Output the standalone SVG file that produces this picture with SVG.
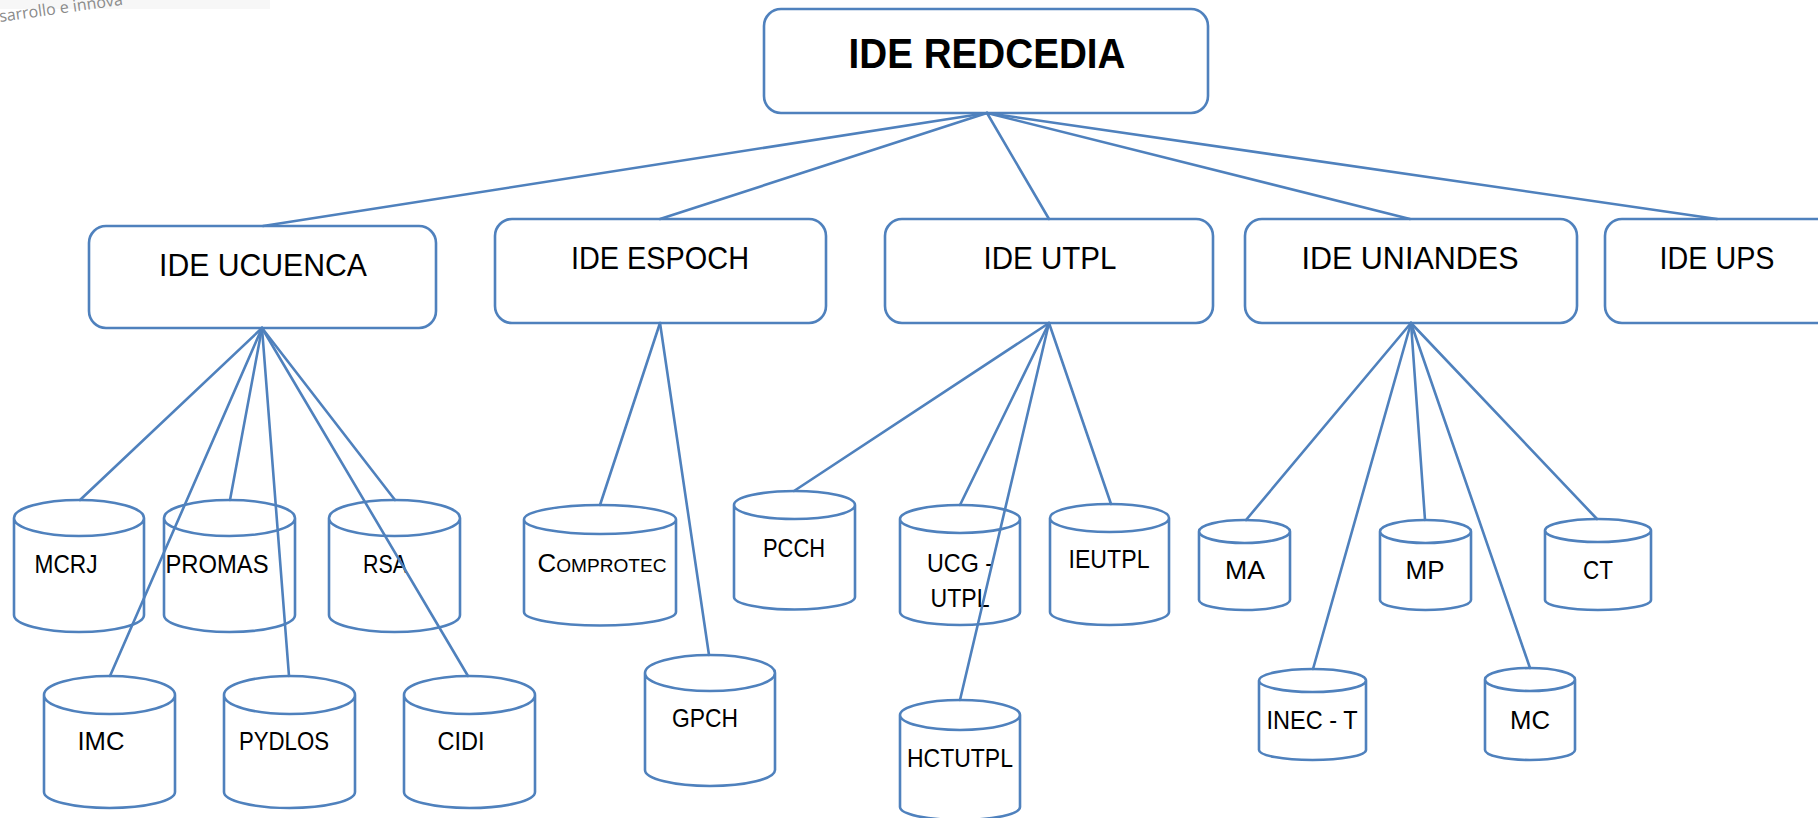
<svg xmlns="http://www.w3.org/2000/svg" width="1818" height="818" viewBox="0 0 1818 818">
<style>
.box{fill:#fff;stroke:#4f81bd;stroke-width:2.6}
.cyl{fill:#fff;stroke:#4f81bd;stroke-width:2.6;stroke-linejoin:round}
.conn line{stroke:#4f81bd;stroke-width:2.6;stroke-linecap:round}
text{font-family:"Liberation Sans",Arial,sans-serif;fill:#000;text-anchor:middle}
.t1{font-size:42px;font-weight:bold}
.t2{font-size:31px}
.t3{font-size:25px}
</style>
<rect width="1818" height="818" fill="#fff"/>
<g id="logo">
<rect x="0" y="0" width="270" height="9" fill="#f7f7f7"/>
<text x="0" y="22" transform="rotate(-8 0 22)" style="font-family:'Open Sans','Liberation Sans',sans-serif;font-size:16px;fill:#8a8a8a;text-anchor:start">sarrollo e innova</text>
</g>
<g id="redcedia"><rect class="box" x="764" y="9" width="444" height="104" rx="17"/><text class="t1" x="987" y="68" textLength="277" lengthAdjust="spacingAndGlyphs">IDE REDCEDIA</text></g>
<g id="ucuenca"><rect class="box" x="89" y="226" width="347" height="102" rx="17"/><text class="t2" x="263" y="276" textLength="208" lengthAdjust="spacingAndGlyphs">IDE UCUENCA</text></g>
<g id="espoch"><rect class="box" x="495" y="219" width="331" height="104" rx="17"/><text class="t2" x="660" y="269" textLength="178" lengthAdjust="spacingAndGlyphs">IDE ESPOCH</text></g>
<g id="utpl"><rect class="box" x="885" y="219" width="328" height="104" rx="17"/><text class="t2" x="1050" y="269" textLength="133" lengthAdjust="spacingAndGlyphs">IDE UTPL</text></g>
<g id="uniandes"><rect class="box" x="1245" y="219" width="332" height="104" rx="17"/><text class="t2" x="1410" y="269" textLength="217" lengthAdjust="spacingAndGlyphs">IDE UNIANDES</text></g>
<g id="ups"><rect class="box" x="1605" y="219" width="240" height="104" rx="17"/><text class="t2" x="1717" y="269" textLength="115" lengthAdjust="spacingAndGlyphs">IDE UPS</text></g>

<g id="mcrj"><path class="cyl" d="M14 518 L14 615 A65 17 0 0 0 144 615 L144 518 A65 18 0 0 0 14 518 A65 18 0 0 0 144 518"/><text class="t3" x="66" y="573" textLength="63" lengthAdjust="spacingAndGlyphs">MCRJ</text></g>
<g id="promas"><path class="cyl" d="M164 518 L164 615 A65.5 17 0 0 0 295 615 L295 518 A65.5 18 0 0 0 164 518 A65.5 18 0 0 0 295 518"/><text class="t3" x="217" y="573" textLength="103" lengthAdjust="spacingAndGlyphs">PROMAS</text></g>
<g id="rsa"><path class="cyl" d="M329 518 L329 615 A65.5 17 0 0 0 460 615 L460 518 A65.5 18 0 0 0 329 518 A65.5 18 0 0 0 460 518"/><text class="t3" x="385" y="573" textLength="44" lengthAdjust="spacingAndGlyphs">RSA</text></g>
<g id="imc"><path class="cyl" d="M44 695 L44 792 A65.5 16 0 0 0 175 792 L175 695 A65.5 19 0 0 0 44 695 A65.5 19 0 0 0 175 695"/><text class="t3" x="101" y="750" textLength="47" lengthAdjust="spacingAndGlyphs">IMC</text></g>
<g id="pydlos"><path class="cyl" d="M224 695 L224 792 A65.5 16 0 0 0 355 792 L355 695 A65.5 19 0 0 0 224 695 A65.5 19 0 0 0 355 695"/><text class="t3" x="284" y="750" textLength="90" lengthAdjust="spacingAndGlyphs">PYDLOS</text></g>
<g id="cidi"><path class="cyl" d="M404 695 L404 792 A65.5 16 0 0 0 535 792 L535 695 A65.5 19 0 0 0 404 695 A65.5 19 0 0 0 535 695"/><text class="t3" x="461" y="750" textLength="47" lengthAdjust="spacingAndGlyphs">CIDI</text></g>

<g id="comprotec"><path class="cyl" d="M524 519.5 L524 612 A76 13.5 0 0 0 676 612 L676 519.5 A76 14.5 0 0 0 524 519.5 A76 14.5 0 0 0 676 519.5"/><text class="t3" x="602" y="572" textLength="129" lengthAdjust="spacingAndGlyphs">C<tspan style="font-size:18.5px">OMPROTEC</tspan></text></g>
<g id="gpch"><path class="cyl" d="M645 673 L645 770 A65 16 0 0 0 775 770 L775 673 A65 18 0 0 0 645 673 A65 18 0 0 0 775 673"/><text class="t3" x="705" y="727" textLength="66" lengthAdjust="spacingAndGlyphs">GPCH</text></g>

<g id="pcch"><path class="cyl" d="M734 505 L734 597 A60.5 12.5 0 0 0 855 597 L855 505 A60.5 14 0 0 0 734 505 A60.5 14 0 0 0 855 505"/><text class="t3" x="794" y="557" textLength="62" lengthAdjust="spacingAndGlyphs">PCCH</text></g>
<g id="ucg"><path class="cyl" d="M900 519 L900 612 A60 13 0 0 0 1020 612 L1020 519 A60 14 0 0 0 900 519 A60 14 0 0 0 1020 519"/><text class="t3" x="960" y="572" textLength="66" lengthAdjust="spacingAndGlyphs">UCG -</text><text class="t3" x="960" y="607" textLength="59" lengthAdjust="spacingAndGlyphs">UTPL</text></g>
<g id="hctutpl"><path class="cyl" d="M900 715 L900 807 A60 13 0 0 0 1020 807 L1020 715 A60 15 0 0 0 900 715 A60 15 0 0 0 1020 715"/><text class="t3" x="960" y="767" textLength="106" lengthAdjust="spacingAndGlyphs">HCTUTPL</text></g>
<g id="ieutpl"><path class="cyl" d="M1050 518 L1050 612 A59.5 13 0 0 0 1169 612 L1169 518 A59.5 14 0 0 0 1050 518 A59.5 14 0 0 0 1169 518"/><text class="t3" x="1109" y="568" textLength="81" lengthAdjust="spacingAndGlyphs">IEUTPL</text></g>

<g id="ma"><path class="cyl" d="M1199 531.5 L1199 600 A45.5 10 0 0 0 1290 600 L1290 531.5 A45.5 11.5 0 0 0 1199 531.5 A45.5 11.5 0 0 0 1290 531.5"/><text class="t3" x="1245" y="579" textLength="40" lengthAdjust="spacingAndGlyphs">MA</text></g>
<g id="mp"><path class="cyl" d="M1380 531.5 L1380 600 A45.5 10 0 0 0 1471 600 L1471 531.5 A45.5 11.5 0 0 0 1380 531.5 A45.5 11.5 0 0 0 1471 531.5"/><text class="t3" x="1425" y="579" textLength="39" lengthAdjust="spacingAndGlyphs">MP</text></g>
<g id="ct"><path class="cyl" d="M1545 530.5 L1545 600 A53 10 0 0 0 1651 600 L1651 530.5 A53 11.5 0 0 0 1545 530.5 A53 11.5 0 0 0 1651 530.5"/><text class="t3" x="1598" y="579" textLength="30" lengthAdjust="spacingAndGlyphs">CT</text></g>
<g id="inec"><path class="cyl" d="M1259 680.5 L1259 750 A53.5 10 0 0 0 1366 750 L1366 680.5 A53.5 11.5 0 0 0 1259 680.5 A53.5 11.5 0 0 0 1366 680.5"/><text class="t3" x="1312" y="729" textLength="91" lengthAdjust="spacingAndGlyphs">INEC - T</text></g>
<g id="mc"><path class="cyl" d="M1485 679.5 L1485 750 A45 10 0 0 0 1575 750 L1575 679.5 A45 11.5 0 0 0 1485 679.5 A45 11.5 0 0 0 1575 679.5"/><text class="t3" x="1530" y="729" textLength="40" lengthAdjust="spacingAndGlyphs">MC</text></g>

<g id="connectors" class="conn">
<line x1="987" y1="113" x2="263" y2="226"/>
<line x1="987" y1="113" x2="660" y2="219"/>
<line x1="987" y1="113" x2="1049" y2="219"/>
<line x1="987" y1="113" x2="1410" y2="219"/>
<line x1="987" y1="113" x2="1717" y2="219"/>
<line x1="262" y1="328" x2="80" y2="500"/>
<line x1="262" y1="328" x2="230" y2="500"/>
<line x1="262" y1="328" x2="395" y2="500"/>
<line x1="262" y1="328" x2="110" y2="676"/>
<line x1="262" y1="328" x2="289" y2="676"/>
<line x1="262" y1="328" x2="468" y2="676"/>
<line x1="660" y1="323" x2="600" y2="505"/>
<line x1="660" y1="323" x2="709" y2="655"/>
<line x1="1049" y1="323" x2="794" y2="491"/>
<line x1="1049" y1="323" x2="960" y2="505"/>
<line x1="1049" y1="323" x2="960" y2="700"/>
<line x1="1049" y1="323" x2="1111" y2="504"/>
<line x1="1411" y1="323" x2="1246" y2="520"/>
<line x1="1411" y1="323" x2="1425" y2="520"/>
<line x1="1411" y1="323" x2="1597" y2="519"/>
<line x1="1411" y1="323" x2="1313" y2="669"/>
<line x1="1411" y1="323" x2="1530" y2="668"/>
</g>
</svg>
